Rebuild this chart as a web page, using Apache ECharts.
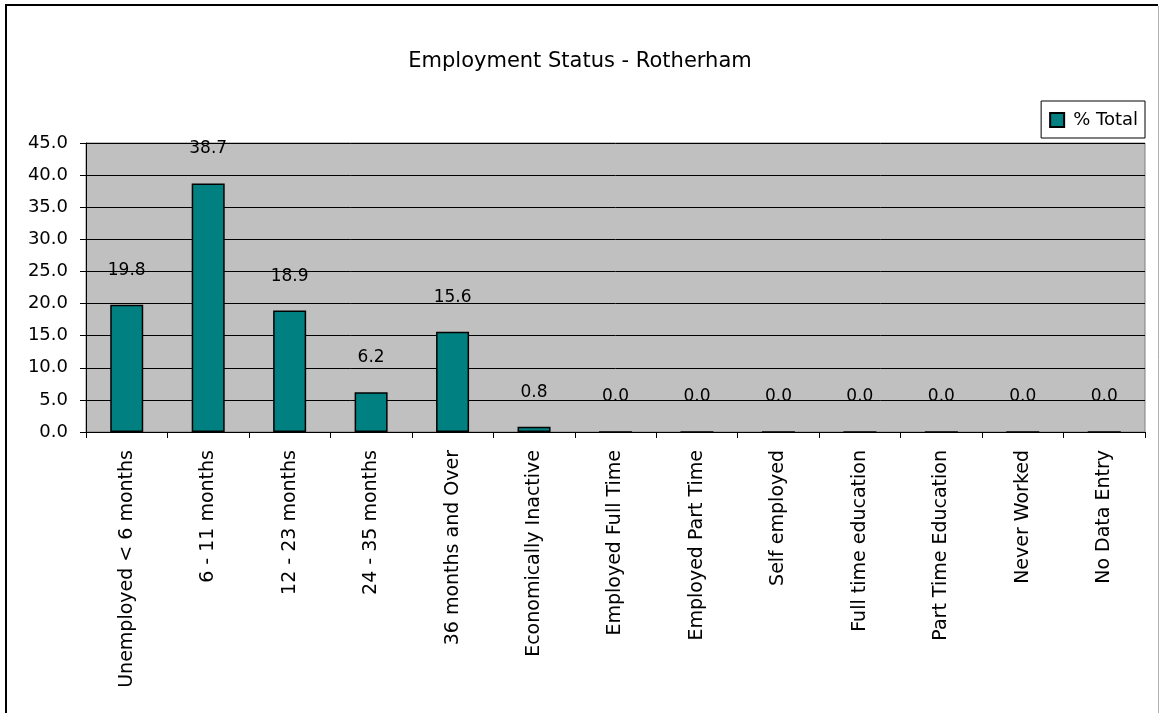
<!DOCTYPE html>
<html>
<head>
<meta charset="utf-8">
<title>Employment Status - Rotherham</title>
<script src="https://cdn.jsdelivr.net/npm/echarts@6/dist/echarts.min.js"></script>
<style>
  html, body { margin: 0; padding: 0; background: #ffffff; }
  #chart { width: 1160px; height: 713px; }
</style>
</head>
<body>
<div id="chart"></div>
<script>
// Employment status categories for Rotherham
const categories = [
  'Unemployed < 6 months',
  '6 - 11 months',
  '12 - 23 months',
  '24 - 35 months',
  '36 months and Over',
  'Economically Inactive',
  'Employed Full Time',
  'Employed Part Time',
  'Self employed',
  'Full time education',
  'Part Time Education',
  'Never Worked',
  'No Data Entry'
];

// Share of the total, per category (%)
const percentTotal = [19.8, 38.7, 18.9, 6.2, 15.6, 0.8, 0.0, 0.0, 0.0, 0.0, 0.0, 0.0, 0.0];

// Value axis range
const yMin = 0;
const yMax = 45;
const yStep = 5;

const FONT = '"DejaVu Sans", sans-serif';

const chart = echarts.init(document.getElementById('chart'), null, { renderer: 'canvas' });

chart.setOption({
  animation: false,
  backgroundColor: '#ffffff',
  title: {
    text: 'Employment Status - Rotherham',
    left: 'center',
    top: 46,
    textStyle: { fontFamily: FONT, fontSize: 21, fontWeight: 'normal', color: '#000' }
  },
  legend: {
    data: ['% Total'],
    right: 15,
    top: 101,
    orient: 'vertical',
    backgroundColor: '#ffffff',
    borderColor: '#000',
    borderWidth: 1,
    borderRadius: 0,
    padding: [10, 7, 9, 8],
    icon: 'rect',
    itemWidth: 14,
    itemHeight: 14,
    textStyle: { fontFamily: FONT, fontSize: 18, color: '#000', padding: [0, 0, 0, 4] }
  },
  grid: {
    left: 86,
    right: 15,
    top: 143,
    bottom: 281,
    show: true,
    backgroundColor: '#C0C0C0',
    borderColor: '#808080',
    borderWidth: 1,
    containLabel: false
  },
  xAxis: {
    type: 'category',
    data: categories,
    boundaryGap: true,
    axisLine: { show: true, lineStyle: { color: '#000', width: 1 } },
    axisTick: { show: true, length: 6, alignWithLabel: false, lineStyle: { color: '#000' } },
    axisLabel: {
      interval: 0,
      rotate: 90,
      margin: 18,
      fontFamily: FONT,
      fontSize: 19,
      color: '#000'
    },
    splitLine: { show: false }
  },
  yAxis: {
    type: 'value',
    min: yMin,
    max: yMax,
    interval: yStep,
    axisLine: { show: true, lineStyle: { color: '#000', width: 1 } },
    axisTick: { show: true, length: 6, lineStyle: { color: '#000' } },
    axisLabel: {
      margin: 18,
      fontFamily: FONT,
      fontSize: 18,
      color: '#000',
      formatter: v => v.toFixed(1)
    },
    splitLine: { show: true, lineStyle: { color: '#000', width: 1 } }
  },
  series: [{
    name: '% Total',
    type: 'bar',
    data: percentTotal,
    barWidth: 33,
    itemStyle: { color: '#008080', borderColor: '#000', borderWidth: 1.5 },
    label: {
      show: true,
      position: 'top',
      distance: 26,
      fontFamily: FONT,
      fontSize: 17,
      color: '#000',
      formatter: p => p.value.toFixed(1)
    }
  }],
  graphic: [
    // Chart frame
    { type: 'line', shape: { x1: 6, y1: 5, x2: 1158, y2: 5 }, style: { stroke: '#000', lineWidth: 2 }, silent: true },
    { type: 'line', shape: { x1: 6, y1: 4, x2: 6, y2: 713 }, style: { stroke: '#000', lineWidth: 2 }, silent: true },
    { type: 'line', shape: { x1: 1158.5, y1: 6, x2: 1158.5, y2: 713 }, style: { stroke: '#b0b0b0', lineWidth: 1 }, silent: true }
  ]
});
</script>
</body>
</html>
